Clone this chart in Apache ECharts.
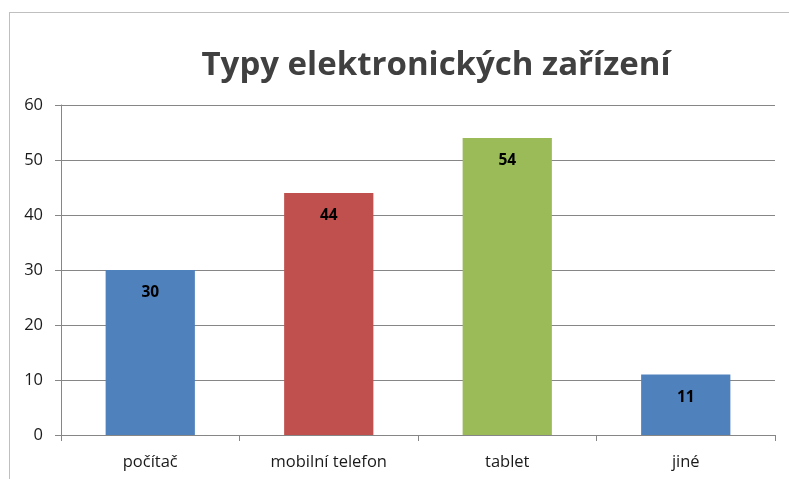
<!DOCTYPE html>
<html>
<head>
<meta charset="utf-8">
<script src="https://cdn.jsdelivr.net/npm/echarts@6/dist/echarts.min.js"></script>
<style>
    html, body { margin:0; padding:0; background:#fff; }
    #main { width:789px; height:479px; }
    .frame { position:absolute; left:9px; top:12px; width:800px; height:500px; border:1px solid #bfbfbf; box-sizing:border-box; }
</style>
</head>
<body>
<div class="frame"></div>
<div id="main" style="position:absolute;left:0;top:0;"></div>
<script>
// data
let categories = ['počítač', 'mobilní telefon', 'tablet', 'jiné'];
let values = [30, 44, 54, 11];
let barColors = ['#4F81BD', '#C0504D', '#9BBB59', '#4F81BD'];
let yTicks = { min: 0, max: 60, interval: 10 };

let chart = echarts.init(document.getElementById('main'));

const option = {
    animation: false,
    title: {
        text: 'Typy elektronických zařízení',
        left: 431,
        top: 44,
        textAlign: 'center',
        textStyle: {
            fontFamily: 'Open Sans',
            fontWeight: 'bold',
            fontSize: 33,
            color: '#404040'
        }
    },
    grid: {
        left: 61,
        right: 14,
        top: 105,
        bottom: 44
    },
    xAxis: {
        type: 'category',
        data: categories,
        axisLine: { lineStyle: { color: '#868686' } },
        axisTick: { show: true, length: 6, alignWithLabel: false, lineStyle: { color: '#868686' } },
        axisLabel: { fontFamily: 'Open Sans', fontSize: 16.5, color: '#1a1a1a', margin: 19 }
    },
    yAxis: {
        type: 'value',
        min: yTicks.min,
        max: yTicks.max,
        interval: yTicks.interval,
        axisLine: { show: true, lineStyle: { color: '#868686' } },
        axisTick: { show: true, length: 6, lineStyle: { color: '#868686' } },
        axisLabel: { fontFamily: 'Open Sans', fontSize: 16.5, color: '#1a1a1a', margin: 18 },
        splitLine: { lineStyle: { color: '#868686' } }
    },
    series: [{
        type: 'bar',
        barWidth: '50%',
        data: values.map((v, i) => ({ value: v, itemStyle: { color: barColors[i] } })),
        label: {
            show: true,
            position: 'insideTop',
            distance: 15,
            fontFamily: 'Open Sans',
            fontWeight: 'bold',
            fontSize: 15.5,
            color: '#000'
        }
    }]
};
chart.setOption(option);
</script>
</body>
</html>
